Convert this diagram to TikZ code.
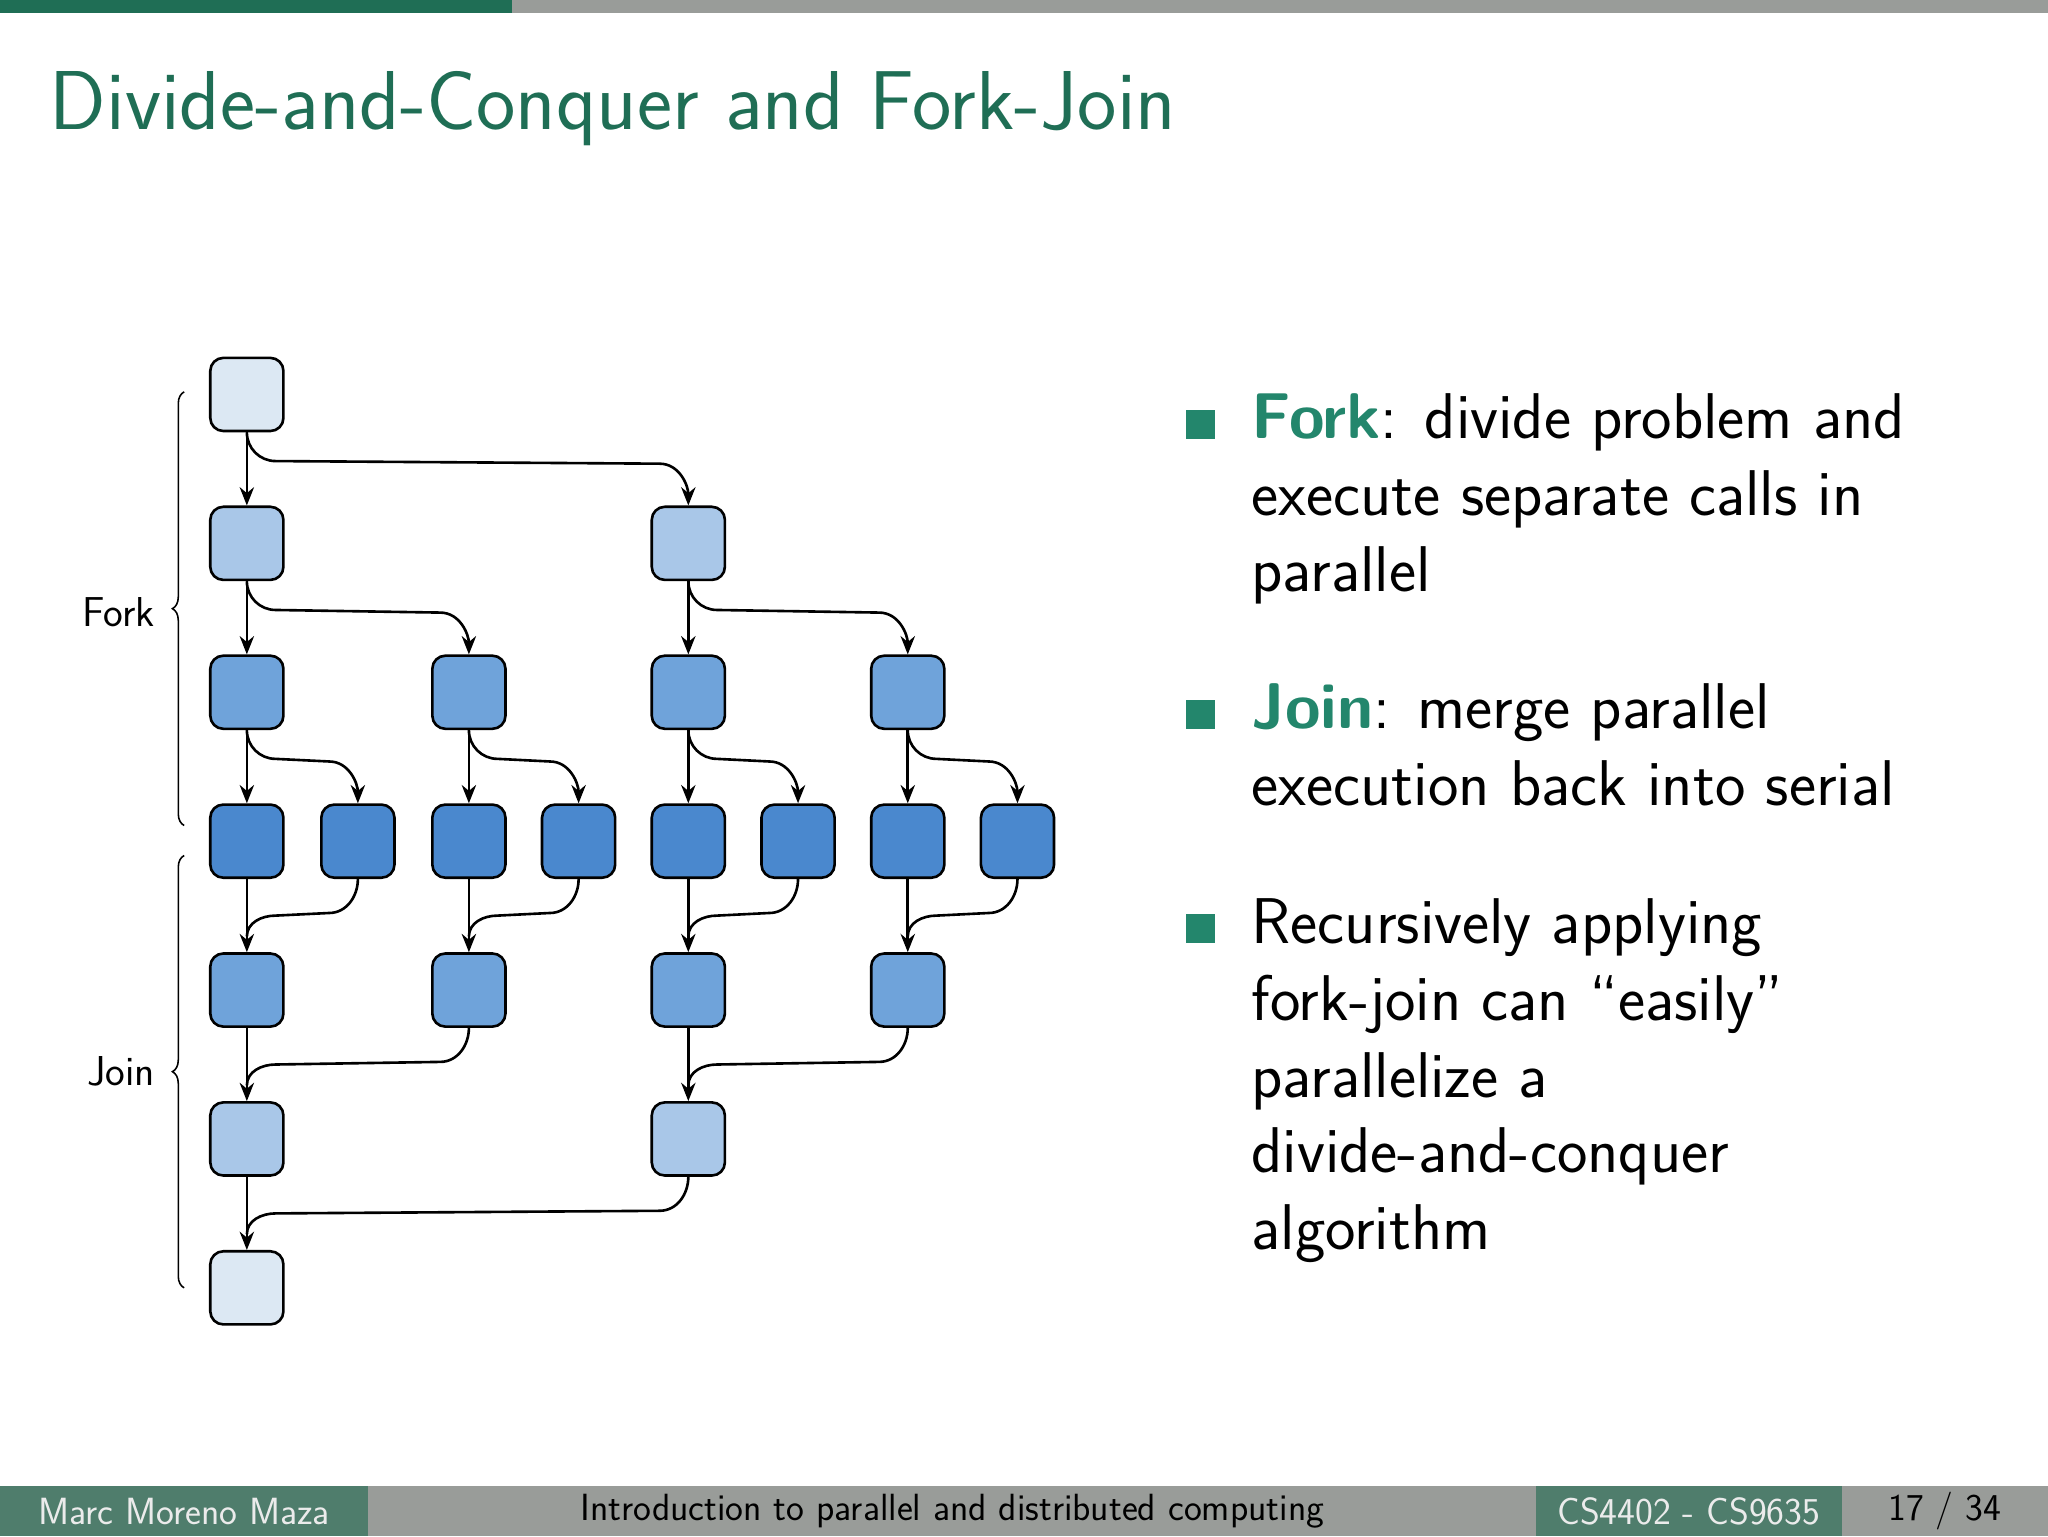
\documentclass[tikz,border=0pt]{standalone}
\usetikzlibrary{calc,decorations.pathreplacing,arrows.meta}
\definecolor{titlegreen}{HTML}{1F6E55}
\definecolor{bulgreen}{HTML}{23866C}
\definecolor{footgreen}{HTML}{4F7D6C}
\definecolor{footgray}{HTML}{999C99}
\definecolor{cA}{HTML}{DCE8F3}
\definecolor{cB}{HTML}{A9C7E8}
\definecolor{cC}{HTML}{6FA3DA}
\definecolor{cD}{HTML}{4A88CE}
\tikzset{
  sq/.style={draw=black,line width=2pt,rounded corners=10pt,minimum width=56pt,minimum height=56pt,inner sep=0},
  arr/.style={-{Stealth[length=14pt,width=11pt]},line width=2pt},
  txt/.style={anchor=base west,inner sep=0,font=\sffamily\fontsize{49.5}{58}\selectfont},
  bul/.style={fill=bulgreen,minimum size=22pt,inner sep=0}
}
\begin{document}
\begin{tikzpicture}[x=1pt,y=-1pt]
\useasboundingbox (0,0) rectangle (1568,1176);
\fill[footgray] (0,0) rectangle (1568,10);
\fill[titlegreen] (0,0) rectangle (392,10);
\node[anchor=base west,inner sep=0,text=titlegreen,font=\sffamily\fontsize{64}{70}\selectfont] (title) at (38,99) {Divide-and-Conquer and Fork-Join};
% nodes
\node[sq,fill=cA] (r1) at (189,302) {};
\node[sq,fill=cB] (r2a) at (189,416) {};
\node[sq,fill=cB] (r2b) at (527,416) {};
\foreach \n/\x in {a/189,b/359,c/527,d/695}{\node[sq,fill=cC] (r3\n) at (\x,530) {};}
\foreach \n/\x in {a/189,b/274,c/359,d/443,e/527,f/611,g/695,h/779}{\node[sq,fill=cD] (r4\n) at (\x,644) {};}
\foreach \n/\x in {a/189,b/359,c/527,d/695}{\node[sq,fill=cC] (r5\n) at (\x,758) {};}
\node[sq,fill=cB] (r6a) at (189,872) {};
\node[sq,fill=cB] (r6b) at (527,872) {};
\node[sq,fill=cA] (r7) at (189,986) {};
% fork edges
\foreach \p/\c in {r1/r2a,r2a/r3a,r2b/r3c,r3a/r4a,r3b/r4c,r3c/r4e,r3d/r4g}{\draw[arr] (\p.south) -- (\c.north);}
\foreach \p/\c in {r1/r2b,r2a/r3b,r2b/r3d,r3a/r4b,r3b/r4d,r3c/r4f,r3d/r4h}{
  \draw[arr] (\p.south) to[out=-90,in=180] ($(\p.south)+(22,22)$) -- ($(\c.north|-\p.south)+(-22,24)$) to[out=0,in=90] (\c.north);}
% join edges
\foreach \p/\c in {r4a/r5a,r4c/r5b,r4e/r5c,r4g/r5d,r5a/r6a,r5c/r6b,r6a/r7}{\draw[arr] (\p.south) -- (\c.north);}
\foreach \p/\c in {r4b/r5a,r4d/r5b,r4f/r5c,r4h/r5d,r5b/r6a,r5d/r6b,r6b/r7}{
  \draw[line width=2pt] (\p.south) to[out=-90,in=0] ($(\p.south)+(-22,26)$) -- ($(\c.north|-\p.south)+(22,28)$) to[out=180,in=90] ($(\c.north|-\p.south)+(0,44)$);}
% braces
\draw[line width=1.2pt,decorate,decoration={brace,amplitude=9pt}] (141,632) -- (141,300);
\draw[line width=1.2pt,decorate,decoration={brace,amplitude=9pt}] (141,986) -- (141,655);
\node[anchor=east,font=\sffamily\fontsize{32}{34}\selectfont] (fl) at (122,469) {Fork};
\node[anchor=east,font=\sffamily\fontsize{32}{34}\selectfont] (jl) at (122,820) {Join};
% bullets
\node[bul] (b1) at (919,325) {};
\node[bul] (b2) at (919,547) {};
\node[bul] (b3) at (919,711) {};
\node[txt] (t1) at (958,336) {\textcolor{bulgreen}{\textbf{Fork}}: divide problem and};
\node[txt] (t2) at (958,395) {execute separate calls in};
\node[txt] (t3) at (958,453) {parallel};
\node[txt] (t4) at (958,558) {\textcolor{bulgreen}{\textbf{Join}}: merge parallel};
\node[txt] (t5) at (958,617) {execution back into serial};
\node[txt] (t6) at (958,722) {Recursively applying};
\node[txt] (t7) at (958,781) {fork-join can ``easily''};
\node[txt] (t8) at (958,840) {parallelize a};
\node[txt] (t9) at (958,898) {divide-and-conquer};
\node[txt] (t10) at (958,957) {algorithm};
% footer
\fill[footgray] (0,1138) rectangle (1568,1176);
\fill[footgreen] (0,1138) rectangle (282,1176);
\fill[footgreen] (1176,1138) rectangle (1410,1176);
\node[font=\sffamily\fontsize{29}{30}\selectfont,text=white!92!black] (f1) at (141,1157) {Marc Moreno Maza};
\node[font=\sffamily\fontsize{29}{30}\selectfont] (f2) at (729,1157) {Introduction to parallel and distributed computing};
\node[font=\sffamily\fontsize{29}{30}\selectfont,text=white!92!black] (f3) at (1293,1157) {CS4402 - CS9635};
\node[font=\sffamily\fontsize{29}{30}\selectfont] (f4) at (1489,1157) {17 / 34};
\end{tikzpicture}
\end{document}
